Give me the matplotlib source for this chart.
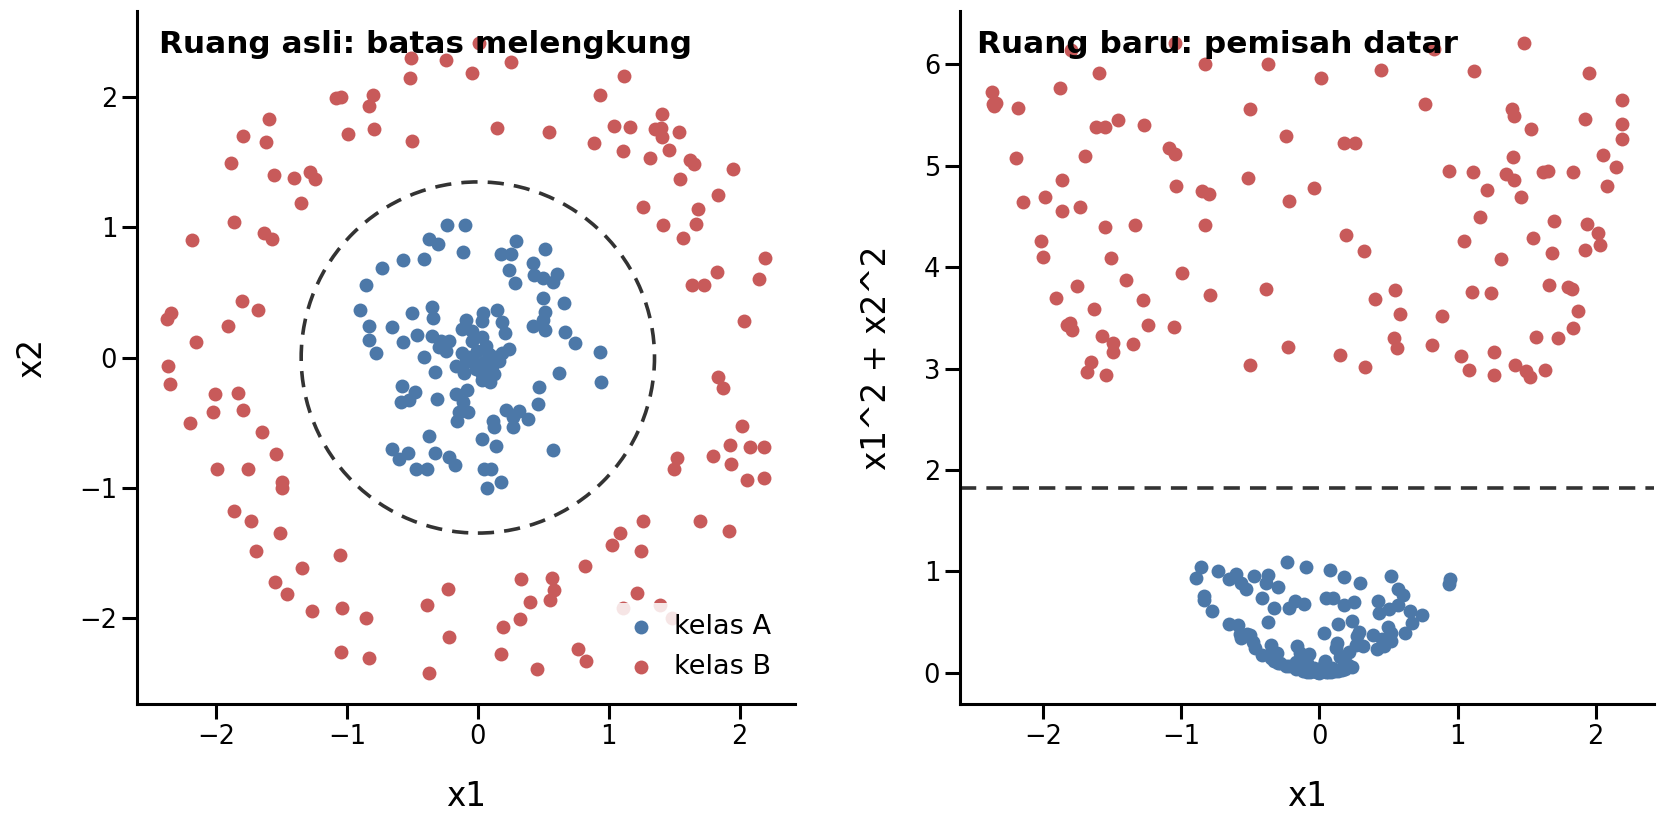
import numpy as np
import matplotlib.pyplot as plt
from matplotlib.patches import Circle

# kelas A (dalam lingkaran): koordinat x1, x2
a_x1 = [-0.238, -0.098, -0.374, -0.303, -0.113, 0.295, 0.515, 0.176, 0.252, -0.571,
        -0.413, -0.732, 0.423, 0.239, 0.431, 0.500, 0.571, 0.602, 0.285, -0.855,
        0.495, 0.656, -0.898, -0.502, -0.349, -0.341, 0.150, 0.515, 0.500, -0.834,
        -0.656, -0.093, 0.042, 0.035, 0.183, 0.209, 0.418, 0.515, 0.669, 0.745,
        -0.119, -0.042, 0.030, -0.466, -0.349, -0.285, -0.221, -0.571, -0.834, -0.298,
        -0.246, -0.047, -0.778, -0.413, 0.239, 0.183, -0.119, -0.067, -0.004, 0.061,
        0.086, 0.137, -0.169, -0.093, -0.016, 0.048, 0.111, 0.163, -0.106, -0.016,
        0.035, 0.073, 0.124, 0.035, 0.091, -0.328, 0.617, -0.579, -0.484, -0.591,
        -0.528, -0.311, -0.169, -0.081, -0.113, -0.144, -0.073, -0.162, 0.464, 0.456,
        0.214, 0.316, 0.265, 0.387, 0.272, 0.117, 0.124, 0.035, 0.137, 0.571,
        -0.374, -0.328, -0.656, -0.604, -0.533, -0.221, -0.175, -0.476, -0.387, 0.048,
        0.099, 0.937, 0.942, 0.180, 0.073]
a_x2 = [1.016, 1.016, 0.909, 0.870, 0.814, 0.896, 0.832, 0.799, 0.799, 0.748,
        0.755, 0.686, 0.730, 0.671, 0.635, 0.615, 0.584, 0.640, 0.569, 0.558,
        0.456, 0.418, 0.364, 0.344, 0.385, 0.301, 0.364, 0.351, 0.288, 0.244,
        0.232, 0.288, 0.339, 0.282, 0.270, 0.186, 0.239, 0.213, 0.198, 0.109,
        0.219, 0.206, 0.160, 0.173, 0.167, 0.129, 0.129, 0.121, 0.137, 0.078,
        0.048, 0.129, 0.032, 0.002, 0.065, 0.032, 0.032, 0.002, 0.052, 0.090,
        0.027, 0.002, -0.063, -0.037, -0.050, -0.037, -0.063, -0.025, -0.121, -0.088,
        -0.127, -0.101, -0.127, -0.173, -0.190, -0.113, -0.119, -0.221, -0.267, -0.344,
        -0.326, -0.318, -0.280, -0.249, -0.344, -0.420, -0.420, -0.485, -0.224, -0.357,
        -0.403, -0.408, -0.454, -0.472, -0.535, -0.485, -0.531, -0.625, -0.681, -0.709,
        -0.604, -0.732, -0.702, -0.779, -0.735, -0.765, -0.824, -0.855, -0.855, -0.855,
        -0.855, 0.044, -0.186, -0.957, -1.003]

# kelas B (cincin luar)
b_x1 = [-0.507, -0.244, -0.515, -1.087, -1.049, -0.801, -0.829, -1.596, -1.798, -1.622,
        -0.995, -0.796, -0.502, -1.883, -1.555, -1.402, -1.281, -1.243, -1.350, -1.862,
        -1.637, -1.576, -2.182, -1.806, -1.683, -1.908, -2.376, -2.347, -2.151, -2.368,
        -2.355, -2.005, -1.831, -2.021, -1.793, -2.197, -1.653, -1.545, -1.990, -1.755,
        -1.499, -1.499, -1.862, -1.737, -1.509, -1.699, -1.057, -1.340, -1.553, -1.461,
        -1.271, -1.039, -0.854, -0.386, -0.229, -0.221, -1.048, -0.828, -0.371, 0.179,
        0.189, 0.321, 0.330, 0.399, 0.564, 0.581, 0.549, 0.818, 0.768, 0.830,
        0.449, 1.213, 1.394, 1.113, 1.482, 1.837, 1.875, 2.015, 1.926, 2.080,
        1.798, 1.938, 2.053, 1.522, 1.497, 1.261, 1.696, 1.921, 1.083, 1.027,
        1.244, 2.195, 2.149, 2.189, 2.189, 0.009, -0.042, 0.257, 1.116, 0.935,
        1.407, 0.150, 0.541, 1.044, 1.160, 1.351, 1.403, 1.410, 1.535, 0.891,
        1.108, 1.313, 1.461, 1.620, 1.653, 1.952, 1.548, 1.837, 1.261, 1.683,
        1.415, 1.666, 1.568, 1.829, 1.637, 1.729, 2.034]
b_x2 = [2.302, 2.289, 2.149, 1.998, 2.005, 2.021, 1.931, 1.834, 1.706, 1.658,
        1.719, 1.758, 1.668, 1.492, 1.407, 1.382, 1.428, 1.374, 1.190, 1.044,
        0.955, 0.914, 0.901, 0.431, 0.367, 0.242, 0.295, 0.339, 0.119, -0.067,
        -0.203, -0.280, -0.272, -0.420, -0.403, -0.505, -0.574, -0.742, -0.855, -0.855,
        -0.957, -1.003, -1.179, -1.256, -1.346, -1.486, -1.515, -1.618, -1.724, -1.821,
        -1.946, -1.929, -2.005, -1.906, -1.779, -2.146, -2.261, -2.307, -2.422, -2.279,
        -2.069, -2.013, -1.706, -1.877, -1.699, -1.788, -1.865, -1.601, -2.241, -2.337,
        -2.396, -1.814, -1.903, -1.923, -2.005, -0.147, -0.236, -0.528, -0.676, -0.689,
        -0.758, -0.817, -0.943, -0.773, -0.860, -1.256, -1.256, -1.331, -1.346, -1.438,
        -1.484, 0.768, 0.607, -0.689, -0.926, 2.422, 2.187, 2.271, 2.166, 2.018,
        1.875, 1.765, 1.735, 1.781, 1.775, 1.760, 1.765, 1.696, 1.735, 1.650,
        1.591, 1.535, 1.599, 1.522, 1.489, 1.451, 1.374, 1.252, 1.160, 1.144,
        1.016, 1.024, 0.922, 0.661, 0.556, 0.556, 0.278]

radius = 1.35
labels = ["kelas A", "kelas B"]
blue = "#4C78A8"
red = "#C85A5A"

a_x1, a_x2 = np.array(a_x1), np.array(a_x2)
b_x1, b_x2 = np.array(b_x1), np.array(b_x2)
a_r2 = a_x1 ** 2 + a_x2 ** 2
b_r2 = b_x1 ** 2 + b_x2 ** 2

plt.rcParams["axes.linewidth"] = 2.2
plt.rcParams["xtick.major.size"] = 10.8
plt.rcParams["ytick.major.size"] = 10.8
plt.rcParams["xtick.major.width"] = 2.2
plt.rcParams["ytick.major.width"] = 2.2
plt.rcParams["xtick.labelsize"] = 18.5
plt.rcParams["ytick.labelsize"] = 18.5
plt.rcParams["axes.labelsize"] = 23.5
plt.rcParams["axes.labelpad"] = 22

W, H = 1664, 826
fig = plt.figure(figsize=(W / 100, H / 100), dpi=100)
ax1 = fig.add_axes([137 / W, 122 / H, 658 / W, 693 / H])
ax2 = fig.add_axes([960 / W, 122 / H, 694 / W, 693 / H])

# panel kiri
ax1.scatter(a_x1, a_x2, s=100, color=blue, linewidth=0, label=labels[0], zorder=3)
ax1.scatter(b_x1, b_x2, s=100, color=red, linewidth=0, label=labels[1], zorder=3)
ax1.add_patch(Circle((0, 0), radius, fill=False, edgecolor="#333333", lw=2.6,
                     linestyle=(0, (4.5, 2.8)), zorder=2))
ax1.set_xlabel("x1")
ax1.set_ylabel("x2")
ax1.set_xticks([-2, -1, 0, 1, 2])
ax1.set_yticks([-2, -1, 0, 1, 2])
leg = ax1.legend(loc="lower right", fontsize=19.5, frameon=True, framealpha=0.85,
                 edgecolor="none", handletextpad=0.2)

# panel kanan
ax2.scatter(a_x1, a_r2, s=100, color=blue, linewidth=0, zorder=3)
ax2.scatter(b_x1, b_r2, s=100, color=red, linewidth=0, zorder=3)
ax2.axhline(radius ** 2, color="#333333", lw=2.6, linestyle=(0, (4.5, 2.8)), zorder=2)
ax2.set_xlabel("x1")
ax2.set_ylabel("x1^2 + x2^2")
ax2.set_xticks([-2, -1, 0, 1, 2])
ax2.set_yticks([0, 1, 2, 3, 4, 5, 6])

for ax in (ax1, ax2):
    ax.spines["top"].set_visible(False)
    ax.spines["right"].set_visible(False)

fig.text(159 / W, 1 - 30 / H, "Ruang asli: batas melengkung", fontsize=22.4,
         fontweight="bold", ha="left", va="top")
fig.text(977 / W, 1 - 30 / H, "Ruang baru: pemisah datar", fontsize=22.4,
         fontweight="bold", ha="left", va="top")

fig.savefig("out.png", dpi=100)
